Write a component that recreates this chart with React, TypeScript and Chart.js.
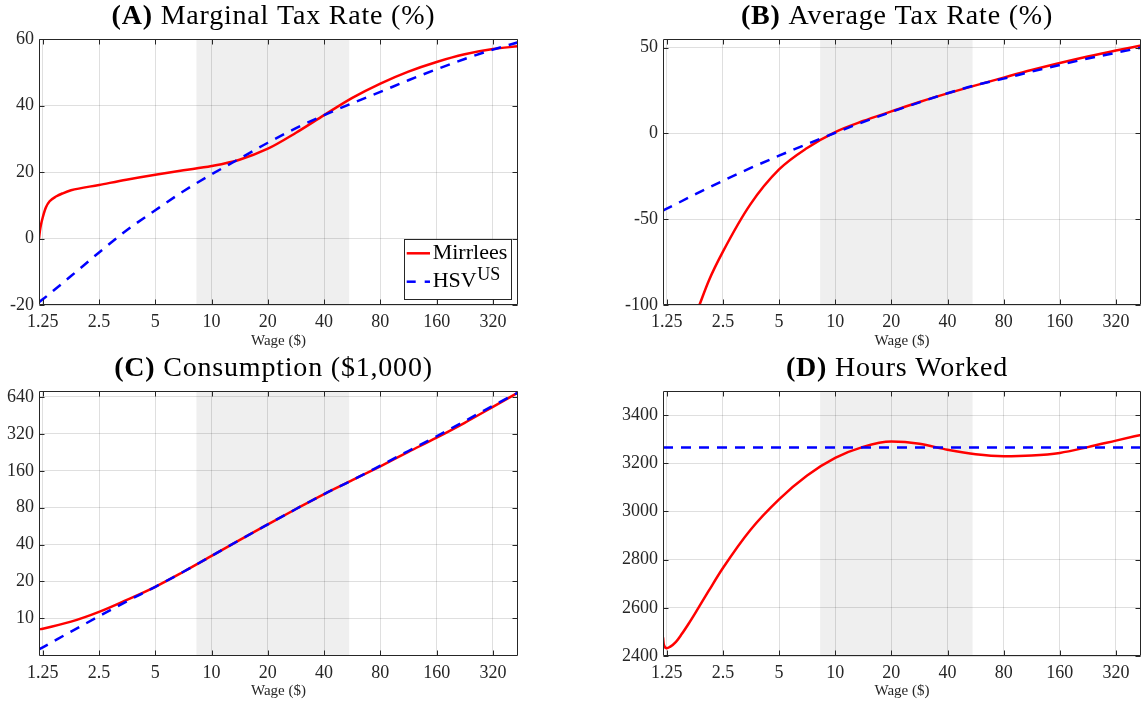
import React, { useEffect, useRef } from 'react';
import { Chart, registerables } from 'chart.js';

Chart.register(...registerables);

// ---------------- data ----------------
const xTickValues = [1.25, 2.5, 5, 10, 20, 40, 80, 160, 320];
const wageMin = 1.193;
const wageMax = 436;
const shadedWageRange = [8.3, 54.5];

const wage = [1.193, 1.25, 1.77, 2.5, 3.5, 5, 7.07, 10, 14.1, 20, 28.3, 40, 56.6, 80, 113, 160, 226, 320, 436];

// (A) Marginal tax rate (%)
const mtrTicks = [-20, 0, 20, 40, 60];
const mtrMirrleesWage = [1.193, 1.207, 1.22, 1.25, 1.3, 1.36, 1.48, 1.6, 1.77, 2.5, 3.5, 5, 7.07, 10, 14.1, 20, 28.3, 40, 56.6, 80, 113, 160, 226, 320, 436];
const mtrMirrlees = [0, 2.4, 3.9, 6.4, 9.4, 11.2, 12.7, 13.6, 14.5, 16.1, 17.7, 19.2, 20.5, 21.8, 23.7, 27.0, 31.8, 37.1, 42.3, 46.6, 50.2, 53.1, 55.4, 57, 57.8];
const mtrHSV = [-19.2, -18.3, -11.3, -4.2, 2.4, 8.5, 14.2, 19.3, 24.0, 28.8, 33.2, 37.1, 40.7, 44.1, 47.6, 50.9, 54.0, 56.8, 59.0];

// (B) Average tax rate (%)
const atrTicks = [-100, -50, 0, 50];
const atrMirrleesWage = [1.87, 2.1, 2.5, 3.5, 5, 7.07, 10, 14.1, 20, 28.3, 40, 56.6, 80, 113, 160, 226, 320, 436];
const atrMirrlees = [-100, -85.8, -68.9, -41.5, -21, -8.5, 0.8, 7.2, 12.8, 18.3, 23.3, 28, 32.5, 36.9, 41.0, 44.8, 48.3, 51.2];
const atrHSV = [-45, -43.9, -35.6, -27.6, -20.3, -13.0, -6.2, 0.3, 6.6, 12.5, 18.1, 23.4, 28.1, 31.9, 36, 39.9, 43.6, 47, 49.9];

// (C) Consumption ($1,000)
const consTicks = [10, 20, 40, 80, 160, 320, 640];
const consMirrlees = [8.13, 8.24, 9.4, 11.3, 14.1, 18.1, 24, 32.3, 43.5, 58.4, 78, 103.3, 134, 174, 228, 298, 394, 531, 695];
const consHSV = [5.58, 5.8, 7.8, 10.4, 13.7, 18.1, 24, 32.3, 43.5, 58.4, 78, 103.3, 134, 176, 232, 306, 406, 543, 695];

// (D) Hours worked
const hoursTicks = [2400, 2600, 2800, 3000, 3200, 3400];
const hoursMirrleesWage = [1.193, 1.205, 1.25, 1.3, 1.4, 1.5, 1.64, 1.77, 2.1, 2.5, 3.5, 5, 7.07, 10, 14.1, 20, 28.3, 40, 56.6, 80, 113, 160, 226, 320, 436];
const hoursMirrlees = [2477, 2447, 2432, 2438, 2459, 2490, 2535, 2576, 2671, 2765, 2922, 3050, 3149, 3222, 3268, 3290, 3281, 3256, 3237, 3229, 3232, 3243, 3267, 3294, 3318];
const hoursHSVWage = [1.193, 436];
const hoursHSV = [3265, 3265];

// ---------------- styling ----------------
const FONT = '"Liberation Serif", "Times New Roman", serif';
const AXIS = '#262626';
const GRID = 'rgba(38,38,38,0.15)';
const SHADE = '#efefef';
const RED = '#ff0000';
const BLUE = '#0000ff';

type Panel = {
  label: string;
  title: string;
  pos: { left: number; top: number; w: number; h: number };
  pad: { left: number; top: number; right: number; axisH: number };
  yType: 'linear' | 'logarithmic';
  yMin: number;
  yMax: number;
  yTicks: number[];
  red: { xs: number[]; ys: number[] };
  blue: { xs: number[]; ys: number[] };
  legend?: boolean;
};

const panels: Panel[] = [
  {
    label: '(A)', title: 'Marginal Tax Rate (%)',
    pos: { left: 0, top: 0, w: 560, h: 350 },
    pad: { left: 39, top: 39, right: 42, axisH: 45 },
    yType: 'linear', yMin: -20, yMax: 60, yTicks: mtrTicks,
    red: { xs: mtrMirrleesWage, ys: mtrMirrlees },
    blue: { xs: wage, ys: mtrHSV },
    legend: true,
  },
  {
    label: '(B)', title: 'Average Tax Rate (%)',
    pos: { left: 570, top: 0, w: 573, h: 350 },
    pad: { left: 93, top: 39, right: 2, axisH: 45 },
    yType: 'linear', yMin: -100, yMax: 55, yTicks: atrTicks,
    red: { xs: atrMirrleesWage, ys: atrMirrlees },
    blue: { xs: wage, ys: atrHSV },
  },
  {
    label: '(C)', title: 'Consumption ($1,000)',
    pos: { left: 0, top: 350, w: 560, h: 350 },
    pad: { left: 39, top: 41, right: 42, axisH: 44 },
    yType: 'logarithmic', yMin: 4.93, yMax: 716, yTicks: consTicks,
    red: { xs: wage, ys: consMirrlees },
    blue: { xs: wage, ys: consHSV },
  },
  {
    label: '(D)', title: 'Hours Worked',
    pos: { left: 570, top: 350, w: 573, h: 350 },
    pad: { left: 93, top: 41, right: 2, axisH: 44 },
    yType: 'linear', yMin: 2400, yMax: 3500, yTicks: hoursTicks,
    red: { xs: hoursMirrleesWage, ys: hoursMirrlees },
    blue: { xs: hoursHSVWage, ys: hoursHSV },
  },
];

const toPoints = (xs: number[], ys: number[]) => xs.map((x, i) => ({ x, y: ys[i] }));

function createChart(canvas: HTMLCanvasElement, p: Panel) {
  const shadePlugin = {
    id: 'shade' + p.label,
    beforeDraw(chart: any) {
      const { ctx, chartArea: ca, scales } = chart;
      const x0 = scales.x.getPixelForValue(shadedWageRange[0]);
      const x1 = scales.x.getPixelForValue(shadedWageRange[1]);
      ctx.save();
      ctx.fillStyle = SHADE;
      ctx.fillRect(x0, ca.top, x1 - x0, ca.bottom - ca.top);
      ctx.restore();
    },
  };

  const framePlugin = {
    id: 'frame' + p.label,
    afterDatasetsDraw(chart: any) {
      const { ctx, chartArea: ca, scales } = chart;
      const L = Math.round(ca.left) + 0.5;
      const R = Math.round(ca.right) - 0.5;
      const T = Math.round(ca.top) + 0.5;
      const B = Math.round(ca.bottom) - 0.5;
      ctx.save();
      ctx.strokeStyle = AXIS;
      ctx.lineWidth = 1;
      ctx.beginPath();
      ctx.rect(L, T, R - L, B - T);
      for (const v of xTickValues) {
        const px = Math.round(scales.x.getPixelForValue(v)) + 0.5;
        ctx.moveTo(px, B); ctx.lineTo(px, B - 5);
        ctx.moveTo(px, T); ctx.lineTo(px, T + 5);
      }
      for (const v of p.yTicks) {
        const py = Math.round(scales.y.getPixelForValue(v)) + 0.5;
        ctx.moveTo(L, py); ctx.lineTo(L + 5, py);
        ctx.moveTo(R, py); ctx.lineTo(R - 5, py);
      }
      ctx.stroke();
      ctx.restore();
    },
    afterDraw(chart: any) {
      const { ctx, chartArea: ca } = chart;
      ctx.save();
      // Title
      const size = 28;
      ctx.textBaseline = 'alphabetic';
      ctx.fillStyle = '#000';
      try { (ctx as any).letterSpacing = '0.8px'; } catch (e) { /* ignore */ }
      ctx.font = `bold ${size}px ${FONT}`;
      const w1 = ctx.measureText(p.label).width;
      ctx.font = `${size}px ${FONT}`;
      const rest = ' ' + p.title;
      const w2 = ctx.measureText(rest).width;
      const cx = (ca.left + ca.right) / 2 - 5;
      const x0 = cx - (w1 + w2) / 2;
      const by = ca.top - 15;
      ctx.font = `bold ${size}px ${FONT}`;
      ctx.fillText(p.label, x0, by);
      ctx.font = `${size}px ${FONT}`;
      ctx.fillText(rest, x0 + w1, by);
      try { (ctx as any).letterSpacing = '0px'; } catch (e) { /* ignore */ }

      if (p.legend) {
        const bw = 107.4, bh = 60.3;
        const bx = ca.right - 6.3 - bw;
        const byTop = ca.top + 200;
        ctx.fillStyle = '#fff';
        ctx.fillRect(bx, byTop, bw, bh);
        ctx.strokeStyle = AXIS;
        ctx.lineWidth = 1;
        ctx.strokeRect(Math.round(bx) + 0.5, Math.round(byTop) + 0.5, Math.round(bw), Math.round(bh));
        // Mirrlees
        ctx.lineWidth = 2.5;
        ctx.strokeStyle = RED;
        ctx.setLineDash([]);
        ctx.beginPath();
        ctx.moveTo(bx + 2.4, byTop + 14.3);
        ctx.lineTo(bx + 25.7, byTop + 14.3);
        ctx.stroke();
        // HSV
        ctx.strokeStyle = BLUE;
        ctx.setLineDash([9, 9]);
        ctx.beginPath();
        ctx.moveTo(bx + 2.4, byTop + 42.7);
        ctx.lineTo(bx + 25.7, byTop + 42.7);
        ctx.stroke();
        ctx.setLineDash([]);
        ctx.fillStyle = '#000';
        ctx.font = `22px ${FONT}`;
        ctx.fillText('Mirrlees', bx + 28.4, byTop + 20);
        ctx.fillText('HSV', bx + 28.4, byTop + 47.7);
        const hw = ctx.measureText('HSV').width;
        ctx.font = `18px ${FONT}`;
        ctx.fillText('US', bx + 28.4 + hw + 0.5, byTop + 41);
      }
      ctx.restore();
    },
  };

  const tickFont = { family: FONT, size: 18 };

  return new Chart(canvas, {
    type: 'line',
    data: {
      datasets: [
        {
          label: 'HSV',
          data: toPoints(p.blue.xs, p.blue.ys),
          borderColor: BLUE,
          borderWidth: 2.5,
          borderDash: [10, 8],
          pointRadius: 0,
          fill: false,
          cubicInterpolationMode: 'monotone',
          order: 0,
        },
        {
          label: 'Mirrlees',
          data: toPoints(p.red.xs, p.red.ys),
          borderColor: RED,
          borderWidth: 2.5,
          pointRadius: 0,
          fill: false,
          cubicInterpolationMode: 'monotone',
          order: 1,
        },
      ],
    },
    options: {
      animation: false,
      responsive: false,
      maintainAspectRatio: false,
      devicePixelRatio: 1,
      events: [],
      layout: { padding: { left: 0, top: p.pad.top, right: p.pad.right, bottom: 0 } },
      plugins: {
        legend: { display: false },
        tooltip: { enabled: false },
        title: { display: false },
      },
      scales: {
        x: {
          type: 'logarithmic',
          position: 'bottom',
          min: wageMin,
          max: wageMax,
          afterBuildTicks: (s: any) => { s.ticks = xTickValues.map((v) => ({ value: v })); },
          afterFit: (s: any) => { s.height = p.pad.axisH; },
          ticks: {
            autoSkip: false,
            maxRotation: 0,
            minRotation: 0,
            padding: 6,
            color: AXIS,
            font: tickFont,
            callback: (v: any) => String(v),
          },
          grid: { color: GRID, lineWidth: 1, drawTicks: false },
          border: { display: false },
          title: { display: true, text: 'Wage ($)', color: AXIS, font: { family: FONT, size: 15 }, padding: 0 },
        },
        y: {
          type: p.yType,
          position: 'left',
          min: p.yMin,
          max: p.yMax,
          afterBuildTicks: (s: any) => { s.ticks = p.yTicks.map((v) => ({ value: v })); },
          afterFit: (s: any) => { s.width = p.pad.left; },
          ticks: {
            autoSkip: false,
            padding: 5,
            color: AXIS,
            font: tickFont,
            callback: (v: any) => String(v),
          },
          grid: { color: GRID, lineWidth: 1, drawTicks: false },
          border: { display: false },
        },
      },
    } as any,
    plugins: [shadePlugin, framePlugin],
  } as any);
}

function PanelChart({ p }: { p: Panel }) {
  const ref = useRef<HTMLCanvasElement | null>(null);
  useEffect(() => {
    if (!ref.current) return;
    const chart = createChart(ref.current, p);
    return () => chart.destroy();
  }, [p]);
  return (
    <canvas
      ref={ref}
      width={p.pos.w}
      height={p.pos.h}
      style={{ position: 'absolute', left: p.pos.left, top: p.pos.top, width: p.pos.w, height: p.pos.h }}
    />
  );
}

export default function App() {
  return (
    <div style={{ position: 'absolute', left: 0, top: 0, width: 1143, height: 702, background: '#fff' }}>
      {panels.map((p) => (
        <PanelChart key={p.label} p={p} />
      ))}
    </div>
  );
}
